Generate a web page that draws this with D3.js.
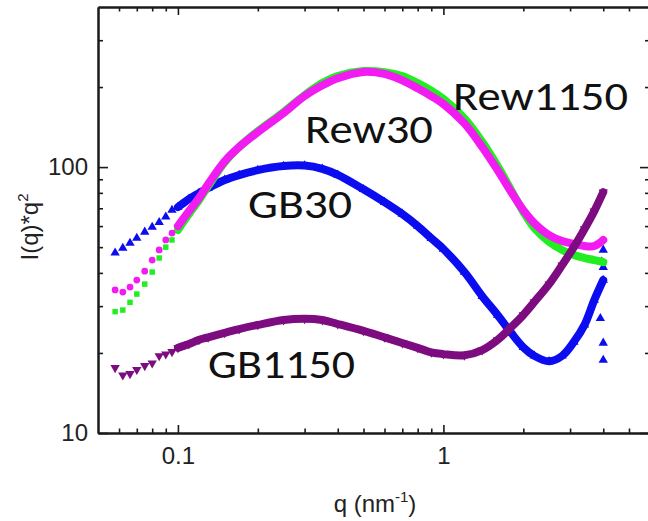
<!DOCTYPE html>
<html><head><meta charset="utf-8">
<script src="https://cdn.jsdelivr.net/npm/d3@7"></script>
<style>body{margin:0;background:#fff} svg{display:block}</style>
</head><body><svg id="c" width="648" height="521"></svg>
<script>
// ---- data ----
const qValues = [0.058,0.062,0.066,0.07,0.075,0.08,0.085,0.09,0.095,0.1,0.11,0.12,0.13,0.15,0.17,0.2,0.25,0.3,0.35,0.4,0.5,0.6,0.7,0.8,0.9,1.0,1.2,1.4,1.6,1.8,2.0,2.2,2.5,2.8,3.1,3.4,3.7,4.0];
const gb30    = [47.6,49.6,51.8,54.1,57,59.5,62,65,68.9,70.7,75.8,79.8,83.4,89.4,93.3,97.4,100.9,101.3,98.5,93.5,82.5,73.8,66.6,60,54,49.2,40.3,32.7,27.8,23.8,21,19.5,18.6,19.5,22,25.5,31.6,37.6];
const rew30   = [34.5,33.9,35.4,37.6,40.6,44.7,48.8,53.2,56.5,60,68.3,76.4,86.3,105.1,118.9,135.4,159.6,185,203,216,228,224,212,198,185,172.7,146,119,97.4,80.6,68.9,61.6,55.5,52.7,51.4,50.5,50.5,53.2];
const rew1150 = [28.6,29.0,31.0,33.3,36.3,40.3,45.5,50,53.2,58,66.6,75.1,84.8,104.3,118.9,136.5,161,186.5,207,220,229.6,227.6,220,207,193.7,180.5,152.5,124.5,100.9,81.9,67.9,59,52.3,48.8,46.7,45.5,44.7,43.9];
const gb1150  = [17.6,16.5,16.7,17.3,17.9,18.3,19.5,19.8,20.2,20.9,21.6,22.4,22.9,23.8,24.6,25.5,26.6,26.9,26.6,25.7,24.2,22.9,21.8,20.9,20.1,19.8,19.6,20.5,22.4,25.0,27.8,31.1,36.3,42.8,50.0,58.5,68.3,80.5];
const gb30TailQ = [3.9,3.95,4.0,4.0,4.0,4.0];
const gb30TailI = [27,44,48.8,42,21.8,18.8];
const seriesNames = ["GB30","Rew30","Rew1150","GB1150"];
const xMajorTicks = [0.1, 1];
const xMinorTicks = [0.06,0.07,0.08,0.09,0.2,0.3,0.4,0.5,0.6,0.7,0.8,0.9,2,3,4,5];
const yMajorTicks = [10, 100];
const yMinorTicks = [20,30,40,50,60,70,80,90,200,300];
const xTitle = "q (nm";
const yTitle = "I(q)*q";

// ---- layout ----
const svg = d3.select("#c");
const x = d3.scaleLog().domain([0.05, 6]).range([98, 650]);
const y = d3.scaleLog().domain([10, 400]).range([433, 7]);
const axisFont = "'Liberation Sans', Arial, sans-serif";
const annFont = "Carlito, Calibri, Lato, sans-serif";

svg.append("rect").attr("width",648).attr("height",521).attr("fill","#fff");

function styleAxis(g){
  g.selectAll(".domain").attr("stroke","#1a1a1a").attr("stroke-width",2);
  g.selectAll(".tick line").attr("stroke","#1a1a1a").attr("stroke-width",1.6);
  g.selectAll("text").attr("font-family",axisFont).attr("font-size",24).attr("fill","#222");
}
// bottom
svg.append("g").attr("transform","translate(0,433)")
  .call(d3.axisBottom(x).tickValues(xMinorTicks).tickSize(-4.5).tickSizeOuter(0).tickFormat(""))
  .call(styleAxis);
svg.append("g").attr("transform","translate(0,433)")
  .call(d3.axisBottom(x).tickValues(xMajorTicks).tickSize(-8).tickSizeOuter(0).tickPadding(14).tickFormat(d3.format("")))
  .call(styleAxis);
// top
svg.append("g").attr("transform","translate(0,7)")
  .call(d3.axisTop(x).tickValues(xMinorTicks).tickSize(-4.5).tickSizeOuter(0).tickFormat(""))
  .call(styleAxis);
svg.append("g").attr("transform","translate(0,7)")
  .call(d3.axisTop(x).tickValues(xMajorTicks).tickSize(-8).tickSizeOuter(0).tickFormat(""))
  .call(styleAxis);
// left
svg.append("g").attr("transform","translate(98,0)")
  .call(d3.axisLeft(y).tickValues(yMinorTicks).tickSize(-5).tickSizeOuter(0).tickFormat(""))
  .call(styleAxis);
svg.append("g").attr("transform","translate(98,0)")
  .call(d3.axisLeft(y).tickValues(yMajorTicks).tickSize(-10).tickSizeOuter(0).tickPadding(10).tickFormat(d3.format("")))
  .call(styleAxis);
// right
svg.append("g").attr("transform","translate(650,0)")
  .call(d3.axisRight(y).tickValues(yMinorTicks).tickSize(-5).tickSizeOuter(0).tickFormat(""))
  .call(styleAxis);
svg.append("g").attr("transform","translate(650,0)")
  .call(d3.axisRight(y).tickValues(yMajorTicks).tickSize(-10).tickSizeOuter(0).tickFormat(""))
  .call(styleAxis);

// axis titles
const xt = svg.append("text").attr("x",375).attr("y",512).attr("text-anchor","middle")
  .attr("font-family",axisFont).attr("font-size",24).attr("fill","#222").text(xTitle);
xt.append("tspan").attr("font-size",15).attr("dy",-10).text("-1");
xt.append("tspan").attr("dy",10).text(")");
const yt = svg.append("text").attr("transform","translate(38,227) rotate(-90)").attr("text-anchor","middle")
  .attr("font-family",axisFont).attr("font-size",24).attr("fill","#222").text(yTitle);
yt.append("tspan").attr("font-size",15).attr("dy",-10).text("2");

// ---- series ----
const series = [
  {name: seriesNames[0], vals: gb30,    color: "#0c0cf0", sym: d3.symbolTriangle, rot: 0,   size: 38},
  {name: seriesNames[2], vals: rew1150, color: "#22ee22", sym: d3.symbolSquare,   rot: 0,   size: 30},
  {name: seriesNames[1], vals: rew30,   color: "#f21cf2", sym: d3.symbolCircle,   rot: 0,   size: 36},
  {name: seriesNames[3], vals: gb1150,  color: "#7d0c80", sym: d3.symbolTriangle, rot: 180, size: 38}
];
const plot = svg.append("g");
const line = d3.line().x(d => x(d.q)).y(d => y(d.v)).curve(d3.curveCatmullRom.alpha(0.5));
series.forEach(s => {
  const pts = qValues.map((q,i) => ({q, v: s.vals[i]}));
  plot.append("path").datum(pts.filter(d => d.q >= 0.1))
    .attr("d", line).attr("fill","none").attr("stroke", s.color)
    .attr("stroke-width", 8).attr("stroke-linejoin","round").attr("stroke-linecap","round");
  plot.selectAll(null).data(pts).enter().append("path")
    .attr("d", d3.symbol().type(s.sym).size(s.size))
    .attr("transform", d => `translate(${x(d.q)},${y(d.v)}) rotate(${s.rot})`)
    .attr("fill", s.color);
  if (s.name === "GB30") {
    plot.selectAll(null).data(gb30TailQ.map((q,i)=>({q, v: gb30TailI[i]}))).enter().append("path")
      .attr("d", d3.symbol().type(s.sym).size(s.size))
      .attr("transform", d => `translate(${x(d.q)},${y(d.v)})`)
      .attr("fill", s.color);
  }
});

// ---- annotations ----
const labels = [
  {t: seriesNames[2], x: 453, y: 110, w: 175},
  {t: seriesNames[1], x: 305, y: 143, w: 128},
  {t: seriesNames[0], x: 248, y: 218, w: 104},
  {t: seriesNames[3], x: 208, y: 378, w: 147}
];
svg.selectAll(null).data(labels).enter().append("text")
  .attr("x", d => d.x).attr("y", d => d.y)
  .attr("textLength", d => d.w).attr("lengthAdjust","spacingAndGlyphs")
  .attr("font-family", annFont).attr("font-size", 40).attr("fill","#111")
  .text(d => d.t);
</script></body></html>
